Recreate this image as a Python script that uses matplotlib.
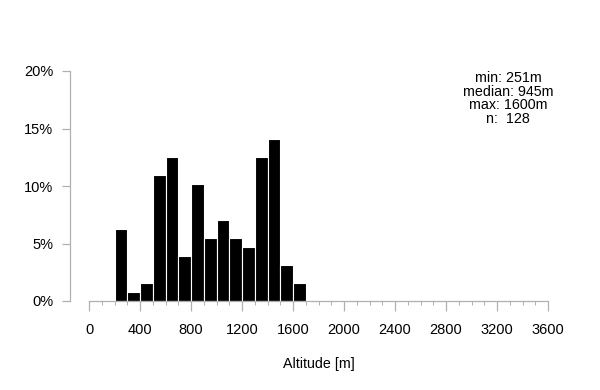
import matplotlib

matplotlib.use("Agg")
import matplotlib.pyplot as plt
from matplotlib.ticker import FuncFormatter, MultipleLocator

# Altitude histogram: 100 m bins, counts out of n = 128
bin_starts = [200, 300, 400, 500, 600, 700, 800, 900, 1000, 1100, 1200, 1300, 1400, 1500, 1600]
counts = [8, 1, 2, 14, 16, 5, 13, 7, 9, 7, 6, 16, 18, 4, 2]
n_total = 128
stats_lines = ["min: 251m", "median: 945m", "max: 1600m", "n:  128"]
x_ticks = list(range(0, 3601, 400))
y_ticks = [0, 0.05, 0.10, 0.15, 0.20]

plt.rcParams["font.family"] = ["Liberation Sans", "DejaVu Sans"]

fig = plt.figure(figsize=(6, 3.9), dpi=100)
ax = fig.add_axes([89 / 600, 89 / 390, 459 / 600, 230 / 390])

shares = [c / n_total for c in counts]
ax.bar(bin_starts, shares, width=100, align="edge", color="black",
       edgecolor="white", linewidth=0.8)

ax.set_xlim(0, 3600)
ax.set_ylim(0, 0.2)
ax.set_xticks(x_ticks)
ax.xaxis.set_minor_locator(MultipleLocator(100))
ax.set_yticks(y_ticks)
ax.yaxis.set_major_formatter(FuncFormatter(lambda v, _: f"{v * 100:.0f}%"))

for side in ("top", "right"):
    ax.spines[side].set_visible(False)
ax.spines["left"].set_position(("outward", 13.7))
ax.spines["left"].set_bounds(0, 0.2)
ax.spines["bottom"].set_bounds(0, 3600)
for side in ("left", "bottom"):
    ax.spines[side].set_color("#b0b0b0")
    ax.spines[side].set_linewidth(0.9)

ax.tick_params(axis="y", length=5.8, width=0.9, color="#b0b0b0", pad=6.3,
               labelsize=10.5, labelcolor="black")
ax.tick_params(axis="x", which="major", length=7, width=0.9, color="#b0b0b0",
               pad=9, labelsize=10.5, labelcolor="black")
ax.tick_params(axis="x", which="minor", length=3, width=0.7, color="#b0b0b0")

ax.set_xlabel("Altitude [m]", fontsize=10.3, labelpad=14)

ax.text(0.913, 1.0, "\n".join(stats_lines), transform=ax.transAxes,
        ha="center", va="top", fontsize=10.3, linespacing=0.97)

fig.savefig("out.png", dpi=100)
